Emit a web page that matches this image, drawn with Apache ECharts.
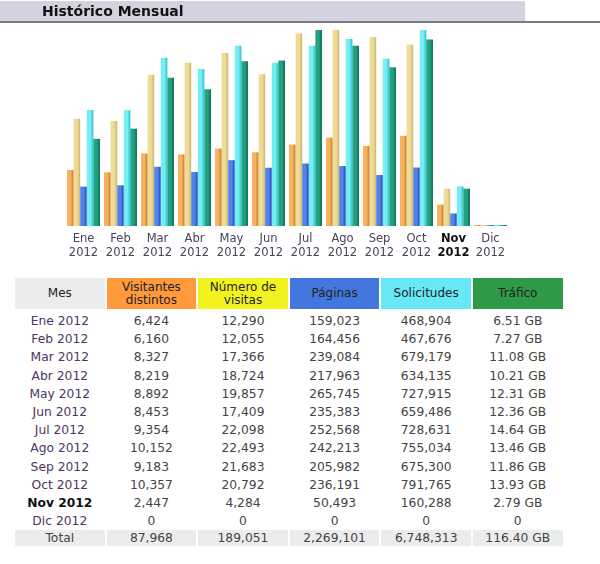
<!DOCTYPE html>
<html>
<head>
<meta charset="utf-8">
<script src="https://cdn.jsdelivr.net/npm/echarts@6/dist/echarts.min.js"></script>
<style>
  body { margin: 0; background: #fff; font-family: 'DejaVu Sans', Verdana, sans-serif; }
  #page { position: relative; width: 600px; height: 564px; overflow: hidden; }
  #title-bar { position: absolute; left: 0; top: 1px; width: 525px; height: 20px; background: #d2d2e0; }
  #title-line { position: absolute; left: 0; top: 21px; width: 600px; height: 2px; background: #7a7a80; }
  #title-text { position: absolute; left: 42px; top: 3px; font-size: 14px; font-weight: bold; color: #111; }
  #chart { position: absolute; left: 0; top: 0; width: 600px; height: 266px; }
  #stats { position: absolute; left: 13px; top: 278px; border-collapse: separate; border-spacing: 2px 0; font-size: 12.3px; }
  #stats th { height: 31px; width: 89.6px; padding: 0; font-weight: normal; font-size: 12px; line-height: 13px; color: #222; }
  #stats td { height: 18.2px; padding: 0; text-align: center; color: #444; }
  #stats td.m { color: #4e3560; }
  #stats tr.bold td.m { font-weight: bold; color: #111; }
  #stats tr.total td { background: #ececec; height: 16px; color: #444; }
  #stats tr.gap td { height: 3px; }
</style>
</head>
<body>
<div id="page">
  <div id="chart"></div>
  <div id="title-bar"></div>
  <div id="title-line"></div>
  <div id="title-text">Histórico Mensual</div>
  <table id="stats"></table>
</div>
<script>
'use strict';
/* Historico mensual - awstats style */

var months = ['Ene', 'Feb', 'Mar', 'Abr', 'May', 'Jun', 'Jul', 'Ago', 'Sep', 'Oct', 'Nov', 'Dic'];
var year = '2012';
var currentMonth = 10; // Nov shown in bold

var visitors = [6424, 6160, 8327, 8219, 8892, 8453, 9354, 10152, 9183, 10357, 2447, 0];
var visits = [12290, 12055, 17366, 18724, 19857, 17409, 22098, 22493, 21683, 20792, 4284, 0];
var pages = [159023, 164456, 239084, 217963, 265745, 235383, 252568, 242213, 205982, 236191, 50493, 0];
var hits = [468904, 467676, 679179, 634135, 727915, 659486, 728631, 755034, 675300, 791765, 160288, 0];
var bandwidth = [6.51, 7.27, 11.08, 10.21, 12.31, 12.36, 14.64, 13.46, 11.86, 13.93, 2.79, 0];

var headers = ['Mes', 'Visitantes<br>distintos', 'Número de<br>visitas', 'Páginas', 'Solicitudes', 'Tráfico'];
var headerColors = ['#ececec', '#ff9a3c', '#f2f21e', '#4477dd', '#66e8f6', '#2e9a48'];
var totals = ['Total', '87,968', '189,051', '2,269,101', '6,748,313', '116.40 GB'];

function fmt(n) {
  return String(n).replace(/\B(?=(\d{3})+(?!\d))/g, ',');
}

function gb(n) {
  return n === 0 ? '0' : n.toFixed(2) + ' GB';
}

function grad(light, dark) {
  return new echarts.graphic.LinearGradient(0, 0, 1, 0, [
    { offset: 0, color: light },
    { offset: 0.55, color: light },
    { offset: 1, color: dark }
  ]);
}

/* chart */
var chart = echarts.init(document.getElementById('chart'));

function barSeries(name, data, axis, light, dark) {
  return {
    name: name,
    type: 'bar',
    yAxisIndex: axis,
    data: data,
    barGap: '0%',
    barCategoryGap: '11%',
    barMinHeight: 1,
    itemStyle: { color: grad(light, dark) },
    animation: false
  };
}

var option = {
  grid: { left: 65, width: 444, top: 30, bottom: 40 },
  xAxis: {
    type: 'category',
    data: months,
    axisLine: { show: false },
    axisTick: { show: false },
    axisLabel: {
      interval: 0,
      margin: 6,
      fontSize: 11.5,
      lineHeight: 14,
      color: '#4a4058',
      fontFamily: 'DejaVu Sans',
      formatter: function(value, index) {
        if (index === currentMonth) {
          return '{b|' + value + '}\n{b|' + year + '}';
        }
        return value + '\n' + year;
      },
      rich: {
        b: { fontWeight: 'bold', color: '#111', fontSize: 11.5, lineHeight: 14, fontFamily: 'DejaVu Sans' }
      }
    }
  },
  yAxis: [
    { type: 'value', show: false, min: 0, max: Math.max.apply(null, visits), splitLine: { show: false } },
    { type: 'value', show: false, min: 0, max: Math.max.apply(null, hits), splitLine: { show: false } },
    { type: 'value', show: false, min: 0, max: Math.max.apply(null, bandwidth), splitLine: { show: false } }
  ],
  series: [
    barSeries('Visitantes distintos', visitors, 0, '#f6b25e', '#c27424'),
    barSeries('Número de visitas', visits, 0, '#eedc94', '#c6b470'),
    barSeries('Páginas', pages, 1, '#5282ea', '#1e40b4'),
    barSeries('Solicitudes', hits, 1, '#74eef2', '#2ec0ca'),
    barSeries('Tráfico', bandwidth, 2, '#22a282', '#0a6a50')
  ]
};

chart.setOption(option);

/* table */
var html = '<tr>';
for (var h = 0; h < headers.length; h++) {
  html += '<th style="background:' + headerColors[h] + '">' + headers[h] + '</th>';
}
html += '</tr><tr class="gap"><td colspan="6"></td></tr>';
for (var i = 0; i < months.length; i++) {
  html += '<tr' + (i === currentMonth ? ' class="bold"' : '') + '>' +
    '<td class="m">' + months[i] + ' ' + year + '</td>' +
    '<td>' + fmt(visitors[i]) + '</td>' +
    '<td>' + fmt(visits[i]) + '</td>' +
    '<td>' + fmt(pages[i]) + '</td>' +
    '<td>' + fmt(hits[i]) + '</td>' +
    '<td>' + gb(bandwidth[i]) + '</td></tr>';
}
html += '<tr class="total">';
for (var t = 0; t < totals.length; t++) {
  html += '<td>' + totals[t] + '</td>';
}
html += '</tr>';
document.getElementById('stats').innerHTML = html;
</script>
</body>
</html>
